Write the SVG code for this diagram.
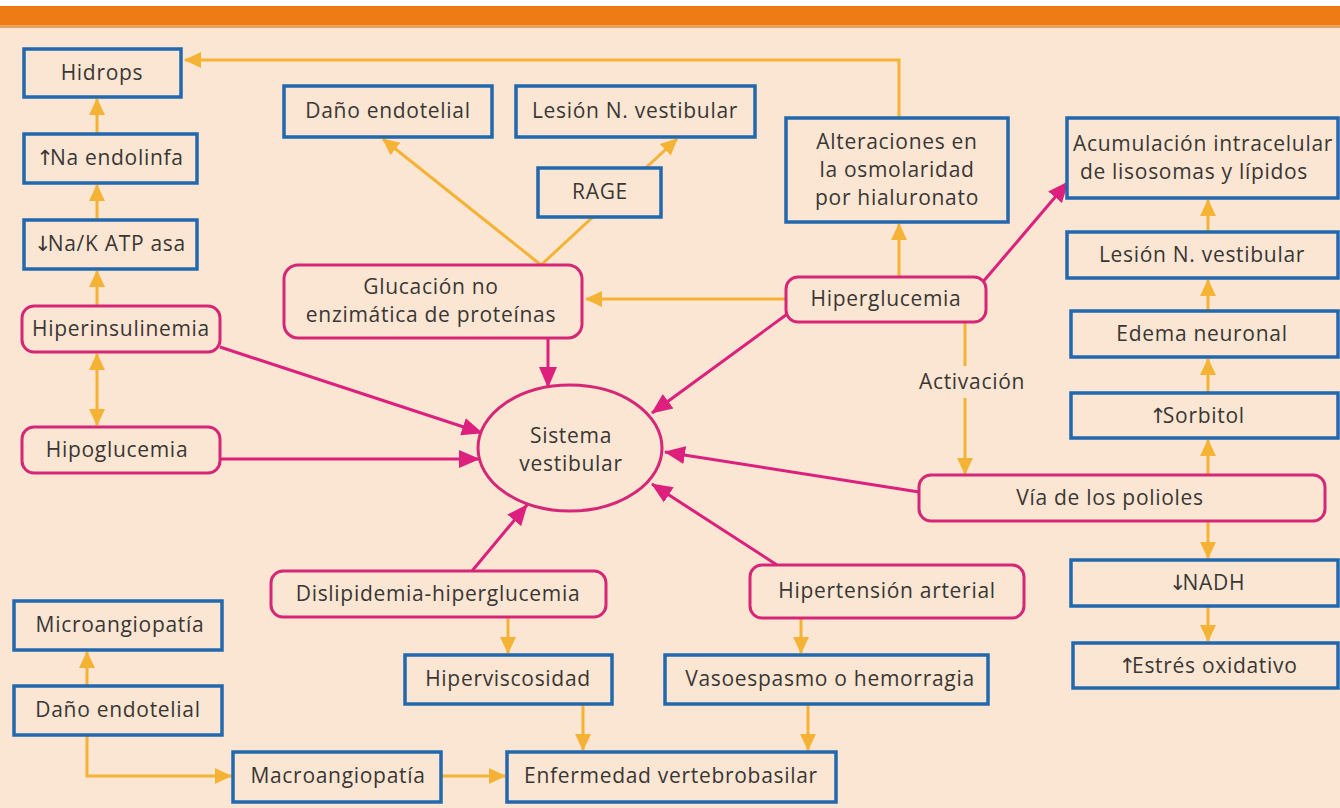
<svg xmlns="http://www.w3.org/2000/svg" width="1340" height="808" viewBox="0 0 1340 808">
<style>
.bg{fill:#FBE6D3}
.b{fill:#FBE6D3;stroke:#2268AE;stroke-width:3.5}
.p{fill:#FBE6D3;stroke:#D62678;stroke-width:3}
.t{font-family:"Open Sans","Liberation Sans",sans-serif;font-size:21px;letter-spacing:0.7px;fill:#3A3634;text-anchor:middle}
.ar{font-family:"DejaVu Sans",sans-serif;letter-spacing:-4px;fill:#3A3634}
.o{stroke:#F5B335;stroke-width:3;fill:none}
.k{stroke:#DD1F7E;stroke-width:3;fill:none}
</style>
<defs>
<marker id="ao" markerUnits="userSpaceOnUse" markerWidth="18" markerHeight="18" refX="16" refY="8" orient="auto-start-reverse" viewBox="0 0 18 16"><path d="M0,0 L17,8 L0,16 Z" fill="#F5B335"/></marker>
<marker id="ap" markerUnits="userSpaceOnUse" markerWidth="22" markerHeight="20" refX="20" refY="9" orient="auto" viewBox="0 0 22 18"><path d="M0,0 L21,9 L0,18 Z" fill="#DD1F7E"/></marker>
</defs>
<rect class="bg" x="0" y="0" width="1340" height="808"/>
<rect x="0" y="0" width="1340" height="6" fill="#FFFFFF"/>
<rect x="0" y="6" width="1340" height="21" fill="#EE7B14"/>
<rect x="0" y="25" width="1340" height="3" fill="#E9A15E"/>

<g id="connectors">
<polyline class="o" points="899,118 899,60 185,60" marker-end="url(#ao)"/>
<line class="o" x1="97" y1="134" x2="97" y2="99" marker-end="url(#ao)"/>
<line class="o" x1="97" y1="220" x2="97" y2="185" marker-end="url(#ao)"/>
<line class="o" x1="97" y1="306" x2="97" y2="271" marker-end="url(#ao)"/>
<line class="o" x1="97" y1="354" x2="97" y2="425" marker-start="url(#ao)" marker-end="url(#ao)"/>
<line class="o" x1="541" y1="265" x2="383" y2="139" marker-end="url(#ao)"/>
<line class="o" x1="541" y1="265" x2="677" y2="139" marker-end="url(#ao)"/>
<line class="o" x1="786" y1="299" x2="586" y2="299" marker-end="url(#ao)"/>
<line class="o" x1="899" y1="277" x2="899" y2="224" marker-end="url(#ao)"/>
<line class="o" x1="965" y1="322" x2="965" y2="366"/>
<line class="o" x1="965" y1="398" x2="965" y2="474" marker-end="url(#ao)"/>
<line class="o" x1="1208" y1="475" x2="1208" y2="440" marker-end="url(#ao)"/>
<line class="o" x1="1208" y1="393" x2="1208" y2="359" marker-end="url(#ao)"/>
<line class="o" x1="1208" y1="311" x2="1208" y2="280" marker-end="url(#ao)"/>
<line class="o" x1="1208" y1="232" x2="1208" y2="200" marker-end="url(#ao)"/>
<line class="o" x1="1208" y1="521" x2="1208" y2="558" marker-end="url(#ao)"/>
<line class="o" x1="1208" y1="606" x2="1208" y2="641" marker-end="url(#ao)"/>
<line class="o" x1="508" y1="617" x2="508" y2="653" marker-end="url(#ao)"/>
<line class="o" x1="801" y1="618" x2="801" y2="653" marker-end="url(#ao)"/>
<line class="o" x1="583" y1="704" x2="583" y2="750" marker-end="url(#ao)"/>
<line class="o" x1="808" y1="704" x2="808" y2="750" marker-end="url(#ao)"/>
<line class="o" x1="87" y1="686" x2="87" y2="652" marker-end="url(#ao)"/>
<polyline class="o" points="87,735 87,776 231,776" marker-end="url(#ao)"/>
<line class="o" x1="441" y1="776" x2="505" y2="776" marker-end="url(#ao)"/>

<line class="k" x1="220" y1="347" x2="482" y2="433" marker-end="url(#ap)"/>
<line class="k" x1="220" y1="459" x2="479" y2="459" marker-end="url(#ap)"/>
<line class="k" x1="548" y1="338" x2="548" y2="387" marker-end="url(#ap)"/>
<line class="k" x1="790" y1="312" x2="652" y2="413" marker-end="url(#ap)"/>
<line class="k" x1="982" y1="283" x2="1068" y2="182" marker-end="url(#ap)"/>
<line class="k" x1="919" y1="492" x2="665" y2="452" marker-end="url(#ap)"/>
<line class="k" x1="777" y1="565" x2="652" y2="484" marker-end="url(#ap)"/>
<line class="k" x1="472" y1="571" x2="527" y2="505" marker-end="url(#ap)"/>
</g>

<text class="t" x="972" y="389">Activación</text>

<g id="hidrops"><rect class="b" x="24" y="49" width="157" height="48"/><text class="t" x="102" y="80">Hidrops</text></g>
<g id="na-endolinfa"><rect class="b" x="24" y="134" width="173" height="49"/><text class="t" x="110" y="165"><tspan class="ar">↑</tspan>Na endolinfa</text></g>
<g id="nak-atpasa"><rect class="b" x="24" y="220" width="173" height="49"/><text class="t" x="110" y="251"><tspan class="ar">↓</tspan>Na/K ATP asa</text></g>
<g id="hiperinsulinemia"><rect class="p" x="22" y="306" width="198" height="46" rx="12"/><text class="t" x="121" y="336">Hiperinsulinemia</text></g>
<g id="hipoglucemia"><rect class="p" x="22" y="427" width="198" height="46" rx="12"/><text class="t" x="117" y="457">Hipoglucemia</text></g>
<g id="dano-endotelial-top"><rect class="b" x="284" y="86" width="208" height="51"/><text class="t" x="388" y="118">Daño endotelial</text></g>
<g id="lesion-top"><rect class="b" x="516" y="86" width="239" height="51"/><text class="t" x="635" y="118">Lesión N. vestibular</text></g>
<g id="rage"><rect class="b" x="538" y="168" width="123" height="49"/><text class="t" x="600" y="199">RAGE</text></g>
<g id="glucacion"><rect class="p" x="284" y="265" width="298" height="73" rx="14"/><text class="t" x="431" y="294">Glucación no</text><text class="t" x="431" y="322">enzimática de proteínas</text></g>
<g id="alteraciones"><rect class="b" x="786" y="118" width="222" height="104"/><text class="t" x="897" y="149">Alteraciones en</text><text class="t" x="897" y="177">la osmolaridad</text><text class="t" x="897" y="205">por hialuronato</text></g>
<g id="hiperglucemia"><rect class="p" x="786" y="277" width="200" height="45" rx="12"/><text class="t" x="886" y="306">Hiperglucemia</text></g>
<g id="acumulacion"><rect class="b" x="1067" y="118" width="271" height="80"/><text class="t" x="1203" y="151">Acumulación intracelular</text><text class="t" x="1194" y="179">de lisosomas y lípidos</text></g>
<g id="lesion-right"><rect class="b" x="1067" y="232" width="271" height="46"/><text class="t" x="1202" y="262">Lesión N. vestibular</text></g>
<g id="edema"><rect class="b" x="1071" y="311" width="267" height="46"/><text class="t" x="1202" y="341">Edema neuronal</text></g>
<g id="sorbitol"><rect class="b" x="1071" y="393" width="267" height="45"/><text class="t" x="1197" y="423"><tspan class="ar">↑</tspan>Sorbitol</text></g>
<g id="polioles"><rect class="p" x="919" y="475" width="406" height="46" rx="12"/><text class="t" x="1110" y="505">Vía de los polioles</text></g>
<g id="nadh"><rect class="b" x="1071" y="560" width="267" height="46"/><text class="t" x="1207" y="590"><tspan class="ar">↓</tspan>NADH</text></g>
<g id="estres"><rect class="b" x="1073" y="643" width="265" height="45"/><text class="t" x="1208" y="673"><tspan class="ar">↑</tspan>Estrés oxidativo</text></g>
<g id="sistema-vestibular"><ellipse class="p" cx="570" cy="448" rx="92" ry="63"/><text class="t" x="571" y="443">Sistema</text><text class="t" x="571" y="471">vestibular</text></g>
<g id="dislipidemia"><rect class="p" x="271" y="571" width="335" height="46" rx="12"/><text class="t" x="438" y="601">Dislipidemia-hiperglucemia</text></g>
<g id="hipertension"><rect class="p" x="750" y="565" width="274" height="53" rx="12"/><text class="t" x="887" y="598">Hipertensión arterial</text></g>
<g id="hiperviscosidad"><rect class="b" x="405" y="655" width="207" height="49"/><text class="t" x="508" y="686">Hiperviscosidad</text></g>
<g id="vasoespasmo"><rect class="b" x="665" y="655" width="323" height="49"/><text class="t" x="830" y="686">Vasoespasmo o hemorragia</text></g>
<g id="microangiopatia"><rect class="b" x="14" y="601" width="208" height="49"/><text class="t" x="120" y="632">Microangiopatía</text></g>
<g id="dano-endotelial-bottom"><rect class="b" x="14" y="686" width="208" height="49"/><text class="t" x="118" y="717">Daño endotelial</text></g>
<g id="macroangiopatia"><rect class="b" x="233" y="752" width="208" height="50"/><text class="t" x="338" y="783">Macroangiopatía</text></g>
<g id="enfermedad"><rect class="b" x="507" y="752" width="329" height="50"/><text class="t" x="671" y="783">Enfermedad vertebrobasilar</text></g>
</svg>
